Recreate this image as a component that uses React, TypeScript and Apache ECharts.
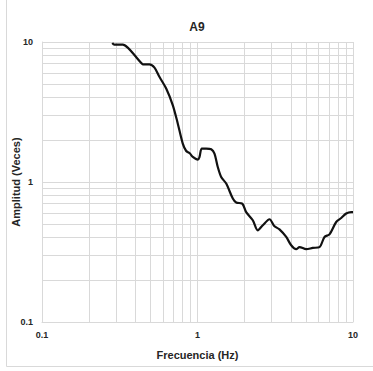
import React, { useEffect, useRef } from "react";
import * as echarts from "echarts";

const title = "A9";
const xName = "Frecuencia (Hz)";
const yName = "Amplitud (Veces)";

const freq = [
  0.283, 0.292, 0.331, 0.356, 0.394, 0.435, 0.445, 0.491, 0.529, 0.57,
  0.629, 0.694, 0.747, 0.804, 0.846, 0.888, 0.933, 1.005, 1.03, 1.066,
  1.137, 1.225, 1.286, 1.35, 1.42, 1.53, 1.687, 1.774, 1.94, 2.056,
  2.268, 2.44, 2.63, 2.904, 3.127, 3.367, 3.72, 4.005, 4.31, 4.53,
  5.0, 5.51, 6.09, 6.56, 7.06, 7.8, 8.4, 9.04, 9.73, 10.0,
];
const amp = [
  9.84, 9.58, 9.58, 9.12, 8.04, 7.08, 6.93, 6.93, 6.56, 5.62,
  4.65, 3.53, 2.61, 1.88, 1.665, 1.61, 1.51, 1.445, 1.51, 1.733,
  1.733, 1.713, 1.595, 1.28, 1.086, 0.974, 0.761, 0.713, 0.701, 0.61,
  0.533, 0.452, 0.491, 0.542, 0.483, 0.459, 0.405, 0.353, 0.331, 0.343,
  0.331, 0.338, 0.343, 0.405, 0.423, 0.518, 0.553, 0.595, 0.61, 0.61,
];

const xMinorGrid = [0.2, 0.3, 0.4, 0.5, 0.6, 0.7, 0.8, 0.9, 2, 3, 4, 5, 6, 7, 8, 9];
const yMinorGrid = [0.2, 0.3, 0.4, 0.5, 0.6, 0.7, 0.8, 0.9, 2, 3, 4, 5, 6, 7, 8, 9];

export default function App() {
  const ref = useRef<HTMLDivElement>(null);
  useEffect(() => {
    document.body.style.margin = "0";
    if (!ref.current) return;
    const chart = echarts.init(ref.current, null, { renderer: "svg" });
    const data = freq.map((f, i) => [f, amp[i]]);
    const gridColor = "#d9d9d9";
    const font = "Liberation Sans, Arial, sans-serif";
    chart.setOption({
      animation: false,
      backgroundColor: "#ffffff",
      title: {
        text: title,
        left: 192,
        top: 16,
        textAlign: "center",
        textStyle: { fontSize: 12, fontWeight: "bold", color: "#262626", fontFamily: font },
      },
      graphic: [
        {
          type: "rect",
          shape: { x: 6.5, y: -5, width: 380, height: 371.5 },
          style: { fill: "rgba(0,0,0,0)", stroke: gridColor, lineWidth: 1 },
          silent: true,
          z: 0,
        },
      ],
      grid: {
        left: 42,
        right: 20,
        top: 42,
        bottom: 49,
        containLabel: false,
        outerBoundsMode: "none",
      },
      xAxis: {
        type: "log",
        logBase: 10,
        min: 0.1,
        max: 10,
        name: xName,
        nameLocation: "middle",
        nameGap: 27,
        nameMoveOverlap: false,
        nameTextStyle: { fontSize: 11, fontWeight: "bold", color: "#262626", fontFamily: font },
        axisLine: { show: true, lineStyle: { color: gridColor } },
        axisTick: { show: false },
        axisLabel: {
          fontSize: 9,
          fontWeight: "bold",
          color: "#262626",
          fontFamily: font,
          margin: 8,
          formatter: (v: number) => String(v),
        },
        splitLine: { show: true, lineStyle: { color: gridColor } },
      },
      yAxis: {
        type: "log",
        logBase: 10,
        min: 0.1,
        max: 10,
        name: yName,
        nameLocation: "middle",
        nameGap: 21,
        nameMoveOverlap: false,
        nameTextStyle: { fontSize: 11, fontWeight: "bold", color: "#262626", fontFamily: font },
        axisLine: { show: true, lineStyle: { color: gridColor } },
        axisTick: { show: false },
        axisLabel: {
          fontSize: 9,
          fontWeight: "bold",
          color: "#262626",
          fontFamily: font,
          margin: 9,
          formatter: (v: number) => String(v),
        },
        splitLine: { show: true, lineStyle: { color: gridColor } },
      },
      series: [
        {
          type: "line",
          data,
          z: 1,
          silent: true,
          showSymbol: false,
          lineStyle: { width: 0, opacity: 0 },
          markLine: {
            z: 1,
            silent: true,
            symbol: "none",
            label: { show: false },
            lineStyle: { color: gridColor, width: 1, type: "solid" },
            data: [
              ...xMinorGrid.map((v) => ({ xAxis: v })),
              ...yMinorGrid.map((v) => ({ yAxis: v })),
            ],
          },
        },
        {
          type: "line",
          data,
          z: 10,
          smooth: 0.3,
          showSymbol: false,
          lineStyle: { color: "#111111", width: 2.2 },
        },
      ],
    });
    return () => chart.dispose();
  }, []);
  return <div ref={ref} style={{ width: 373, height: 371 }} />;
}
